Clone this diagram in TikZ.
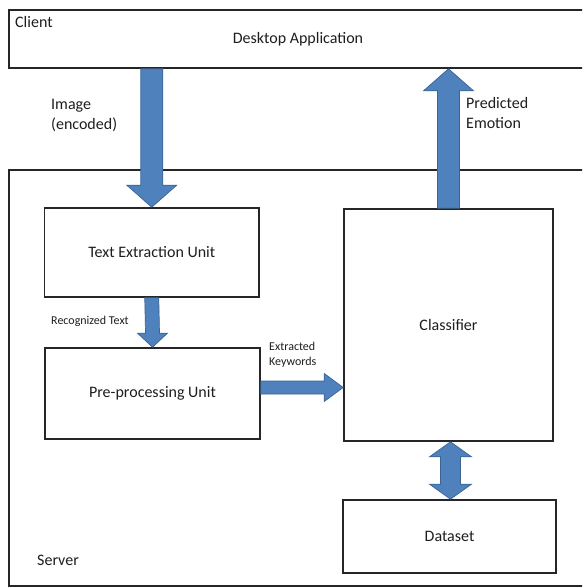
\documentclass[tikz,border=0pt]{standalone}
\usepackage{fontspec}
\setmainfont{Carlito}
\usetikzlibrary{calc}
\definecolor{arrowfill}{HTML}{4F81BD}
\definecolor{arrowline}{HTML}{3A6494}
\definecolor{boxline}{HTML}{262626}
\definecolor{txt}{HTML}{1E1E1E}
\tikzset{
  box/.style={draw=boxline, line width=1.6pt, rectangle, inner sep=0pt, text=txt,
    font=\fontsize{16}{20}\selectfont},
  blockarrow/.style={fill=arrowfill, draw=arrowline, line width=0.7pt, line join=miter},
  lbl/.style={text=txt, inner sep=0pt, font=\fontsize{16}{20}\selectfont, align=left},
  smalllbl/.style={text=txt, inner sep=0pt, font=\fontsize{12}{15}\selectfont, align=left},
}
\begin{document}
\begin{tikzpicture}[x=1pt, y=-1pt]
\useasboundingbox (0,0) rectangle (582,588);
\clip (0,0) rectangle (582,588);
\fill[white] (0,0) rectangle (582,588);

% containers
\node[box, minimum width=578pt, minimum height=58pt] (client) at (298,39) {Desktop Application};
\node[box, minimum width=578pt, minimum height=416pt] (server) at (298,378) {};

% units
\node[box, minimum width=214.5pt, minimum height=89pt] (tex) at (151.75,252.5) {Text Extraction Unit};
\node[box, minimum width=215pt, minimum height=91pt] (pre) at (152.5,393.5) {Pre-processing Unit};
\node[box, minimum width=209pt, minimum height=232pt] (cls) at (448.5,325) {Classifier};
\node[box, minimum width=213pt, minimum height=73pt] (data) at (449.5,536.5) {Dataset};

% labels
\node[lbl, anchor=west] (clientlbl) at (15,22) {Client};
\node[lbl, anchor=west] (serverlbl) at (37,560) {Server};
\node[lbl, anchor=west] (imglbl) at (51,115) {Image\\(encoded)};
\node[lbl, anchor=west] (emolbl) at (466,113) {Predicted\\Emotion};
\node[smalllbl, anchor=west] (reclbl) at (51,321) {Recognized Text};
\node[smalllbl, anchor=west] (kwlbl) at (269,354.5) {Extracted\\Keywords};

% down arrow: client -> text extraction
\coordinate (s1) at (client.south -| tex.north);
\coordinate (t1) at (tex.north);
\draw[blockarrow] ($(s1)+(-11,0)$) -- ($(t1)+(-11,-22)$) -- ($(t1)+(-25,-22)$) -- (t1)
  -- ($(t1)+(25,-22)$) -- ($(t1)+(11,-22)$) -- ($(s1)+(11,0)$) -- cycle;

% up arrow: classifier -> client
\coordinate (s2) at (cls.north);
\coordinate (t2) at (client.south -| cls.north);
\draw[blockarrow] ($(s2)+(-11,0)$) -- ($(t2)+(-11,22)$) -- ($(t2)+(-25,22)$) -- (t2)
  -- ($(t2)+(25,22)$) -- ($(t2)+(11,22)$) -- ($(s2)+(11,0)$) -- cycle;

% recognized text arrow
\coordinate (s3) at (tex.south);
\coordinate (t3) at (pre.north);
\draw[blockarrow] ($(s3)+(-7,0)$) -- ($(t3)+(-7,-14)$) -- ($(t3)+(-15,-14)$) -- (t3)
  -- ($(t3)+(15,-14)$) -- ($(t3)+(7,-14)$) -- ($(s3)+(7,0)$) -- cycle;

% extracted keywords arrow
\coordinate (s4) at ($(pre.east)+(0,-6)$);
\coordinate (t4) at (s4 -| cls.west);
\draw[blockarrow] ($(s4)+(0,-6.5)$) -- ($(t4)+(-19,-6.5)$) -- ($(t4)+(-19,-14)$) -- (t4)
  -- ($(t4)+(-19,14)$) -- ($(t4)+(-19,6.5)$) -- ($(s4)+(0,6.5)$) -- cycle;

% classifier <-> dataset
\coordinate (s5) at ($(cls.south)+(2,0)$);
\coordinate (t5) at (data.north -| s5);
\draw[blockarrow] (s5) -- ($(s5)+(21,15)$) -- ($(s5)+(10,15)$) -- ($(t5)+(10,-15)$)
  -- ($(t5)+(21,-15)$) -- (t5) -- ($(t5)+(-21,-15)$) -- ($(t5)+(-10,-15)$)
  -- ($(s5)+(-10,15)$) -- ($(s5)+(-21,15)$) -- cycle;
\end{tikzpicture}
\end{document}
